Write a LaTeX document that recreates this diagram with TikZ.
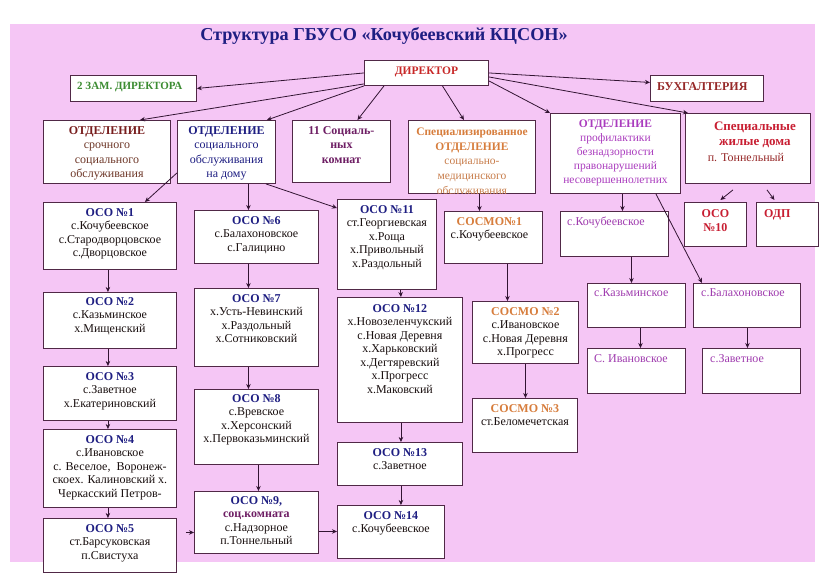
\documentclass[tikz,border=0pt]{standalone}
\usepackage{fontspec}
\setmainfont{Liberation Serif}
\usetikzlibrary{calc,arrows.meta}
\definecolor{bgpink}{RGB}{245,198,245}
\definecolor{boxc}{RGB}{80,40,70}
\definecolor{arrc}{RGB}{50,20,50}
\definecolor{navy}{RGB}{30,30,130}
\definecolor{dirred}{RGB}{200,40,40}
\definecolor{zamgreen}{RGB}{60,140,50}
\definecolor{buhred}{RGB}{150,40,40}
\definecolor{maroon}{RGB}{120,30,30}
\definecolor{brownt}{RGB}{110,55,40}
\definecolor{purp}{RGB}{110,30,100}
\definecolor{orangeh}{RGB}{215,125,60}
\definecolor{orangeb}{RGB}{200,125,75}
\definecolor{magh}{RGB}{170,60,190}
\definecolor{crimson}{RGB}{200,30,50}
\definecolor{darkred}{RGB}{150,40,40}
\definecolor{magc}{RGB}{160,60,175}
\definecolor{bodyc}{RGB}{25,15,15}
\tikzset{
  boxst/.style={draw=boxc, fill=white, line width=0.9pt, inner sep=0pt},
  txt/.style={align=center, inner sep=0pt, text=bodyc, font=\fontsize{12}{13.5}\selectfont},
  htxt/.style={align=center, inner sep=0pt, font=\fontsize{12}{14.5}\selectfont},
  arr/.style={draw=arrc, line width=0.8pt, -{Stealth[length=5pt,width=4.5pt]}}
}
\newcommand\mybox[5]{\node[boxst,anchor=north west,minimum width=#4pt,minimum height=#5pt] (#1) at (#2,#3) {};}
\newcommand\osot[2]{\textcolor{navy}{\textbf{#1}}}
\begin{document}
\begin{tikzpicture}[x=1pt,y=-1pt]
\useasboundingbox (0,0) rectangle (830,587);
\fill[white] (0,0) rectangle (830,587);
\fill[bgpink] (10,24) rectangle (815,562);

\node[inner sep=0pt, text=navy, font=\fontsize{18.2}{21}\selectfont\bfseries] (title) at (384,36) {Структура ГБУСО «Кочубеевский КЦСОН»};

% top row
\mybox{dir}{364}{60}{124}{25}
\node[inner sep=0pt, text=dirred, font=\fontsize{11.5}{13}\selectfont\bfseries] (dirt) at ($(dir)+(0,-1.5)$) {ДИРЕКТОР};
\mybox{zam}{70}{75}{126}{26}
\node[inner sep=0pt, anchor=west, text=zamgreen, font=\fontsize{11}{13}\selectfont\bfseries] (zamt) at ($(zam.west)+(7,-1)$) {2 ЗАМ. ДИРЕКТОРА};
\mybox{buh}{650}{75}{113}{26}
\node[inner sep=0pt, anchor=west, text=buhred, font=\fontsize{12}{14}\selectfont\bfseries] (buht) at ($(buh.west)+(7,-2)$) {БУХГАЛТЕРИЯ};

% second row
\mybox{srochn}{43}{120}{127}{63}
\node[htxt, anchor=north, text=brownt] (srochnt) at ($(srochn.north)+(0,6)$) {\textcolor{maroon}{\textbf{ОТДЕЛЕНИЕ}}\\срочного\\социального\\обслуживания};
\mybox{dom}{177}{120}{98}{63}
\node[htxt, anchor=north, text=navy] (domt) at ($(dom.north)+(0,6)$) {\textbf{ОТДЕЛЕНИЕ}\\социального\\обслуживания\\на дому};
\mybox{komn}{292}{120}{98}{62}
\node[htxt, anchor=north, text=purp, font=\fontsize{12}{14.5}\selectfont\bfseries] (komnt) at ($(komn.north)+(0,6)$) {11 Социаль-\\ных\\комнат};
\mybox{spec}{408}{120}{127}{73}
\begin{scope}
\clip (spec.south west) rectangle (spec.north east);
\node[htxt, anchor=north, text=orangeb, font=\fontsize{11.5}{14.8}\selectfont] (spect) at ($(spec.north)+(0,7.5)$) {\textcolor{orangeh}{\textbf{Специализированное}}\\\textcolor{orangeh}{\textbf{ОТДЕЛЕНИЕ}}\\социально-\\медицинского\\обслуживания};
\end{scope}
\mybox{prof}{550}{113}{130}{80}
\node[htxt, anchor=north, text=magh, font=\fontsize{11.5}{14}\selectfont] (proft) at ($(prof.north)+(0,7)$) {\textbf{ОТДЕЛЕНИЕ}\\профилактики\\безнадзорности\\правонарушений\\несовершеннолетних};
\mybox{zhil}{685}{113}{125}{70}
\node[inner sep=0pt, align=center, anchor=north, text=crimson, font=\fontsize{13}{15}\selectfont\bfseries] (zhilt) at ($(zhil.north)+(7,9)$) {Специальные\\жилые дома};
\node[inner sep=0pt, anchor=north, text=darkred, font=\fontsize{12}{13.5}\selectfont] (zhilt2) at ($(zhil.north)+(-2,40)$) {п. Тоннельный};

% column 1
\mybox{oso1}{43}{202}{133}{67}
\node[txt, anchor=north] (oso1t) at ($(oso1.north)+(0,6)$) {\osot{ОСО №1}{}\\с.Кочубеевское\\с.Стародворцовское\\с.Дворцовское};
\mybox{oso2}{43}{292}{133}{56}
\node[txt, anchor=north] (oso2t) at ($(oso2.north)+(0,5)$) {\osot{ОСО №2}{}\\с.Казьминское\\х.Мищенский};
\mybox{oso3}{43}{366}{133}{54}
\node[txt, anchor=north] (oso3t) at ($(oso3.north)+(0,6)$) {\osot{ОСО №3}{}\\с.Заветное\\х.Екатериновский};
\mybox{oso4}{43}{429}{133}{78}
\node[txt, anchor=north] (oso4t) at ($(oso4.north)+(0,6)$) {\osot{ОСО №4}{}\\с.Ивановское\\с. Веселое,\ \ Воронеж-\\скоех. Калиновский х.\\Черкасский Петров-};
\mybox{oso5}{43}{518}{133}{54}
\node[txt, anchor=north] (oso5t) at ($(oso5.north)+(0,6)$) {\osot{ОСО №5}{}\\ст.Барсуковская\\п.Свистуха};

% column 2
\mybox{oso6}{194}{210}{124}{53}
\node[txt, anchor=north] (oso6t) at ($(oso6.north)+(0,6)$) {\osot{ОСО №6}{}\\с.Балахоновское\\с.Галицино};
\mybox{oso7}{194}{288}{124}{78}
\node[txt, anchor=north] (oso7t) at ($(oso7.north)+(0,6)$) {\osot{ОСО №7}{}\\х.Усть-Невинский\\х.Раздольный\\х.Сотниковский};
\mybox{oso8}{194}{389}{124}{75}
\node[txt, anchor=north] (oso8t) at ($(oso8.north)+(0,5)$) {\osot{ОСО №8}{}\\с.Вревское\\х.Херсонский\\х.Первоказьминский};
\mybox{oso9}{194}{491}{124}{62}
\node[txt, anchor=north] (oso9t) at ($(oso9.north)+(0,5)$) {\osot{ОСО №9,}{}\\\textcolor{purp}{\textbf{соц.комната}}\\с.Надзорное\\п.Тоннельный};

% column 3
\mybox{oso11}{337}{199}{99}{90}
\node[txt, anchor=north] (oso11t) at ($(oso11.north)+(0,6)$) {\osot{ОСО №11}{}\\ст.Георгиевская\\х.Роща\\х.Привольный\\х.Раздольный};
\mybox{oso12}{337}{297}{125}{125}
\node[txt, anchor=north] (oso12t) at ($(oso12.north)+(0,7)$) {\osot{ОСО №12}{}\\х.Новозеленчукский\\с.Новая Деревня\\х.Харьковский\\х.Дегтяревский\\х.Прогресс\\х.Маковский};
\mybox{oso13}{337}{442}{125}{43}
\node[txt, anchor=north] (oso13t) at ($(oso13.north)+(0,6)$) {\osot{ОСО №13}{}\\с.Заветное};
\mybox{oso14}{337}{505}{107}{53}
\node[txt, anchor=north] (oso14t) at ($(oso14.north)+(0,6)$) {\osot{ОСО №14}{}\\с.Кочубеевское};

% column 4
\mybox{sosmo1}{444}{211}{98}{52}
\node[txt, anchor=north] (sosmo1t) at ($(sosmo1.north)+(-4,6)$) {\textcolor{orangeh}{\textbf{СОСМО№1}}\\с.Кочубеевское};
\mybox{sosmo2}{472}{301}{106}{62}
\node[txt, anchor=north] (sosmo2t) at ($(sosmo2.north)+(0,6)$) {\textcolor{orangeh}{\textbf{СОСМО №2}}\\с.Ивановское\\с.Новая Деревня\\х.Прогресс};
\mybox{sosmo3}{472}{398}{105}{54}
\node[txt, anchor=north] (sosmo3t) at ($(sosmo3.north)+(0,6)$) {\textcolor{orangeh}{\textbf{СОСМО №3}}\\ст.Беломечетская};

% column 5
\mybox{kochub}{560}{211}{108}{45}
\node[txt, anchor=north west, text=magc] (kochubt) at ($(kochub.north west)+(7,6)$) {с.Кочубеевское};
\mybox{kazm}{587}{283}{98}{44}
\node[txt, anchor=north west, text=magc] (kazmt) at ($(kazm.north west)+(7,5)$) {с.Казьминское};
\mybox{balax}{693}{283}{107}{44}
\node[txt, anchor=north west, text=magc] (balaxt) at ($(balax.north west)+(8,5)$) {с.Балахоновское};
\mybox{ivan}{587}{348}{98}{45}
\node[txt, anchor=north west, text=magc] (ivant) at ($(ivan.north west)+(7,6)$) {С. Ивановское};
\mybox{zavet}{702}{348}{98}{45}
\node[txt, anchor=north west, text=magc] (zavett) at ($(zavet.north west)+(8,6)$) {с.Заветное};
\mybox{oso10}{684}{202}{62}{44}
\node[txt, anchor=north, text=crimson, font=\fontsize{12}{14}\selectfont\bfseries] (oso10t) at ($(oso10.north)+(0,7)$) {ОСО\\№10};
\mybox{odp}{756}{202}{62}{44}
\node[txt, anchor=north west, text=crimson, font=\fontsize{12}{14}\selectfont\bfseries] (odpt) at ($(odp.north west)+(8,7)$) {ОДП};

% arrows from director
\draw[arr] (dir.west) -- (zam.east);
\draw[arr] (dir.east) -- ($(buh.west)+(0,-6)$);
\draw[arr] ($(dir.south west)+(0,-2)$) -- ($(srochn.north)+(33,0)$);
\draw[arr] (dir.south west) -- ($(dom.north east)+(-9,0)$);
\draw[arr] ($(dir.south west)+(20,0)$) -- ($(komn.north)+(16,0)$);
\draw[arr] ($(dir.south)+(16,0)$) -- ($(spec.north)+(-8,0)$);
\draw[arr] ($(dir.south east)+(0,-5)$) -- (prof.north west);
\draw[arr] ($(dir.east)+(0,4)$) -- ($(zhil.north west)+(3,0)$);

% from dom
\draw[arr] ($(dom.south west)+(0,-11)$) -- ($(oso1.north)+(35,0)$);
\draw[arr] ($(dom.south)+(22,0)$) -- ($(oso6.north)+(-8,0)$);
\draw[arr] ($(dom.south east)+(-10,0)$) -- ($(oso11.north west)+(0,9)$);

% column 1
\draw[arr] ($(oso1.south)+(-2,0)$) -- ($(oso2.north)+(-2,0)$);
\draw[arr] ($(oso2.south)+(-2,0)$) -- ($(oso3.north)+(-2,0)$);
\draw[arr] ($(oso3.south)+(-2,0)$) -- ($(oso4.north)+(-2,0)$);
\draw[arr] ($(oso4.south)+(-2,0)$) -- ($(oso5.north)+(-2,0)$);
\draw[arr, shorten <=9pt] ($(oso5.east)+(0,-13)$) -- ($(oso9.west)+(0,10)$);

% column 2
\draw[arr] ($(oso6.south)+(-8,0)$) -- ($(oso7.north)+(-8,0)$);
\draw[arr] ($(oso7.south)+(-8,0)$) -- ($(oso8.north)+(-8,0)$);
\draw[arr] ($(oso8.south)+(2,0)$) -- ($(oso9.north)+(2,0)$);
\draw[arr] ($(oso9.east)+(0,9)$) -- ($(oso14.west)+(0,-0.5)$);

% column 3
\draw[arr] ($(oso11.south)+(13.5,0)$) -- ($(oso12.north)+(1,0)$);
\draw[arr] ($(oso12.south)+(1,0)$) -- ($(oso13.north)+(1,0)$);
\draw[arr] ($(oso13.south)+(1,0)$) -- ($(oso14.north)+(10,0)$);

% column 4
\draw[arr] ($(spec.south)+(7.5,0)$) -- ($(sosmo1.north)+(-14,0)$);
\draw[arr] ($(sosmo1.south)+(14,0)$) -- ($(sosmo2.north)+(-18,0)$);
\draw[arr] (sosmo2.south) -- (sosmo2.south |- sosmo3.north);

% column 5
\draw[arr] ($(prof.south)+(7,0)$) -- ($(kochub.north)+(8,0)$);
\draw[arr] ($(prof.south east)+(-25,0)$) -- ($(balax.north west)+(9,0)$);
\draw[arr] ($(kochub.south)+(17,0)$) -- ($(kazm.north)+(-5,0)$);
\draw[arr] ($(kazm.south)+(4,0)$) -- ($(ivan.north)+(4,0)$);
\draw[arr] ($(balax.south)+(0.5,0)$) -- ($(zavet.north)+(-4,0)$);
\draw[arr] ($(zhil.south)+(-15,6)$) -- ($(oso10.north)+(5,-2)$);
\draw[arr] ($(zhil.south)+(19,6)$) -- ($(odp.north)+(-13,-2)$);
\end{tikzpicture}
\end{document}
